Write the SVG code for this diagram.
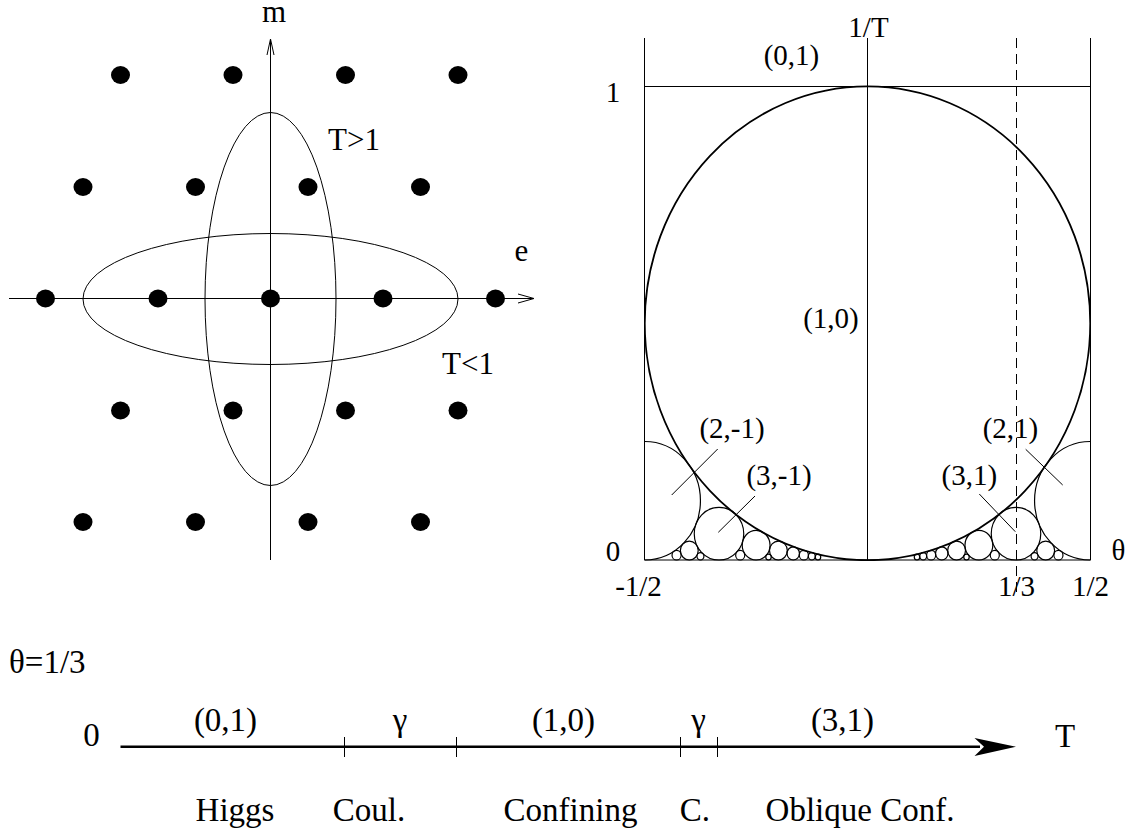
<svg xmlns="http://www.w3.org/2000/svg" width="1133" height="834" viewBox="0 0 1133 834">
<defs>
<style>
.l{font-size:31px}
.r{font-size:29px}
.b{font-size:33px}
.m{text-anchor:middle}
.ln{stroke:#000;stroke-width:1;fill:none}
.fc{stroke:#000;stroke-width:1.2;fill:none}
.dot{fill:#000}
</style>
<clipPath id="box"><rect x="644.5" y="30" width="446" height="531"/></clipPath>
</defs>
<rect width="1133" height="834" fill="#fff"/>

<g id="lattice">
<g id="axes-left">
<line class="ln" x1="9" y1="298.5" x2="533" y2="298.5"/>
<polyline class="ln" points="518,294 534,298.5 518,303"/>
<line class="ln" x1="270.5" y1="560" x2="270.5" y2="40"/>
<polyline class="ln" points="267,55 270.5,39 274,55"/>
</g>
<g id="ellipses">
<ellipse class="ln" cx="270.5" cy="299" rx="65.5" ry="186.5"/>
<ellipse class="ln" cx="270.5" cy="299" rx="187.5" ry="65.5"/>
</g>
<g id="dots">
<ellipse class="dot" cx="120.5" cy="75" rx="9.5" ry="9"/>
<ellipse class="dot" cx="233" cy="75" rx="9.5" ry="9"/>
<ellipse class="dot" cx="345.5" cy="75" rx="9.5" ry="9"/>
<ellipse class="dot" cx="458" cy="75" rx="9.5" ry="9"/>
<ellipse class="dot" cx="83" cy="187" rx="9.5" ry="9"/>
<ellipse class="dot" cx="195.5" cy="187" rx="9.5" ry="9"/>
<ellipse class="dot" cx="308" cy="187" rx="9.5" ry="9"/>
<ellipse class="dot" cx="420.5" cy="187" rx="9.5" ry="9"/>
<ellipse class="dot" cx="45.5" cy="298.5" rx="9.5" ry="9"/>
<ellipse class="dot" cx="158" cy="298.5" rx="9.5" ry="9"/>
<ellipse class="dot" cx="270.5" cy="298.5" rx="9.5" ry="9"/>
<ellipse class="dot" cx="383" cy="298.5" rx="9.5" ry="9"/>
<ellipse class="dot" cx="495.5" cy="298.5" rx="9.5" ry="9"/>
<ellipse class="dot" cx="120.5" cy="410.5" rx="9.5" ry="9"/>
<ellipse class="dot" cx="233" cy="410.5" rx="9.5" ry="9"/>
<ellipse class="dot" cx="345.5" cy="410.5" rx="9.5" ry="9"/>
<ellipse class="dot" cx="458" cy="410.5" rx="9.5" ry="9"/>
<ellipse class="dot" cx="83" cy="522" rx="9.5" ry="9"/>
<ellipse class="dot" cx="195.5" cy="522" rx="9.5" ry="9"/>
<ellipse class="dot" cx="308" cy="522" rx="9.5" ry="9"/>
<ellipse class="dot" cx="420.5" cy="522" rx="9.5" ry="9"/>
</g>
<g id="labels-left" font-family="Liberation Serif, Times New Roman, Tinos, serif">
<text class="l m" x="274" y="22">m</text>
<text class="l m" x="521.5" y="261">e</text>
<text class="l" x="328" y="150">T&gt;1</text>
<text class="l" x="442" y="374">T&lt;1</text>
</g>
</g>

<g id="ford">
<g id="frame">
<line class="ln" x1="644.5" y1="38" x2="644.5" y2="560"/>
<line class="ln" x1="1090.5" y1="38" x2="1090.5" y2="560"/>
<line class="ln" x1="867.5" y1="38" x2="867.5" y2="560"/>
<line class="ln" x1="644.5" y1="86.5" x2="1090.5" y2="86.5"/>
<line class="ln" x1="644.5" y1="560" x2="1090.5" y2="560"/>
<line class="ln" x1="1016.5" y1="38" x2="1016.5" y2="594" stroke-dasharray="10 6"/>
</g>
<g id="circles" clip-path="url(#box)">
<ellipse cx="867.5" cy="323.3" rx="222.75" ry="236.9" fill="none" stroke="#000" stroke-width="1.8"/>
<ellipse class="fc" cx="644.75" cy="500.75" rx="55.69" ry="59.25"/>
<ellipse class="fc" cx="1090.25" cy="500.75" rx="55.69" ry="59.25"/>
<ellipse class="fc" cx="719" cy="533.67" rx="24.75" ry="26.33"/>
<ellipse class="fc" cx="1016" cy="533.67" rx="24.75" ry="26.33"/>
<ellipse class="fc" cx="756.13" cy="545.19" rx="13.92" ry="14.81"/>
<ellipse class="fc" cx="978.88" cy="545.19" rx="13.92" ry="14.81"/>
<ellipse class="fc" cx="778.4" cy="550.52" rx="8.91" ry="9.48"/>
<ellipse class="fc" cx="956.6" cy="550.52" rx="8.91" ry="9.48"/>
<ellipse class="fc" cx="689.3" cy="550.52" rx="8.91" ry="9.48"/>
<ellipse class="fc" cx="1045.7" cy="550.52" rx="8.91" ry="9.48"/>
<ellipse class="fc" cx="793.25" cy="553.42" rx="6.19" ry="6.58"/>
<ellipse class="fc" cx="941.75" cy="553.42" rx="6.19" ry="6.58"/>
<ellipse class="fc" cx="803.86" cy="555.16" rx="4.55" ry="4.84"/>
<ellipse class="fc" cx="931.14" cy="555.16" rx="4.55" ry="4.84"/>
<ellipse class="fc" cx="740.21" cy="555.16" rx="4.55" ry="4.84"/>
<ellipse class="fc" cx="994.79" cy="555.16" rx="4.55" ry="4.84"/>
<ellipse class="fc" cx="676.57" cy="555.16" rx="4.55" ry="4.84"/>
<ellipse class="fc" cx="1058.43" cy="555.16" rx="4.55" ry="4.84"/>
<ellipse class="fc" cx="811.81" cy="556.3" rx="3.48" ry="3.7"/>
<ellipse class="fc" cx="923.19" cy="556.3" rx="3.48" ry="3.7"/>
<ellipse class="fc" cx="700.44" cy="556.3" rx="3.48" ry="3.7"/>
<ellipse class="fc" cx="1034.56" cy="556.3" rx="3.48" ry="3.7"/>
<ellipse class="fc" cx="818" cy="557.07" rx="2.75" ry="2.93"/>
<ellipse class="fc" cx="917" cy="557.07" rx="2.75" ry="2.93"/>
<ellipse class="fc" cx="768.5" cy="557.07" rx="2.75" ry="2.93"/>
<ellipse class="fc" cx="966.5" cy="557.07" rx="2.75" ry="2.93"/>
</g>
<g id="leaders">
<line class="ln" x1="671.7" y1="495" x2="717.7" y2="449"/>
<line class="ln" x1="718.3" y1="532.3" x2="755" y2="496"/>
<line class="ln" x1="1025.7" y1="449.3" x2="1062.7" y2="485"/>
<line class="ln" x1="979.3" y1="494" x2="1015.3" y2="531.7"/>
</g>
<g id="labels-right" font-family="Liberation Serif, Times New Roman, Tinos, serif">
<text class="r m" x="868.5" y="36.5">1/T</text>
<text class="r m" x="791.5" y="65">(0,1)</text>
<text class="r m" x="613" y="101.5">1</text>
<text class="r m" x="831" y="328">(1,0)</text>
<text class="r m" x="732" y="438">(2,-1)</text>
<text class="r m" x="779" y="485">(3,-1)</text>
<text class="r m" x="1010.5" y="438">(2,1)</text>
<text class="r m" x="969.3" y="485">(3,1)</text>
<text class="r m" x="613" y="561">0</text>
<text class="r m" x="1118.5" y="560">θ</text>
<text class="r m" x="638.5" y="596">-1/2</text>
<text class="r m" x="1016.5" y="596">1/3</text>
<text class="r m" x="1090.5" y="596">1/2</text>
</g>
</g>

<g id="phase-line">
<g id="axis-bottom">
<line x1="120.5" y1="746.7" x2="980" y2="746.7" stroke="#000" stroke-width="2.4"/>
<path d="M1016,746.7 L974.5,738 L984,746.7 L974.5,756 Z" fill="#000"/>
<line class="ln" x1="344.5" y1="737" x2="344.5" y2="757"/>
<line class="ln" x1="456.5" y1="737" x2="456.5" y2="757"/>
<line class="ln" x1="680.5" y1="737" x2="680.5" y2="757"/>
<line class="ln" x1="717.5" y1="737" x2="717.5" y2="757"/>
</g>
<g id="labels-bottom" font-family="Liberation Serif, Times New Roman, Tinos, serif">
<text class="b" x="9" y="673">θ=1/3</text>
<text class="b m" x="91.5" y="746">0</text>
<text class="b" x="1055" y="746.7">T</text>
<text class="b m" x="225.5" y="731">(0,1)</text>
<text class="b m" x="400" y="731">γ</text>
<text class="b m" x="563.5" y="731">(1,0)</text>
<text class="b m" x="698.5" y="731">γ</text>
<text class="b m" x="842.5" y="731">(3,1)</text>
<text class="b m" x="235" y="821">Higgs</text>
<text class="b m" x="369" y="821">Coul.</text>
<text class="b m" x="570.5" y="821">Confining</text>
<text class="b m" x="695" y="821">C.</text>
<text class="b m" x="860" y="821">Oblique Conf.</text>
</g>
</g>
</svg>
